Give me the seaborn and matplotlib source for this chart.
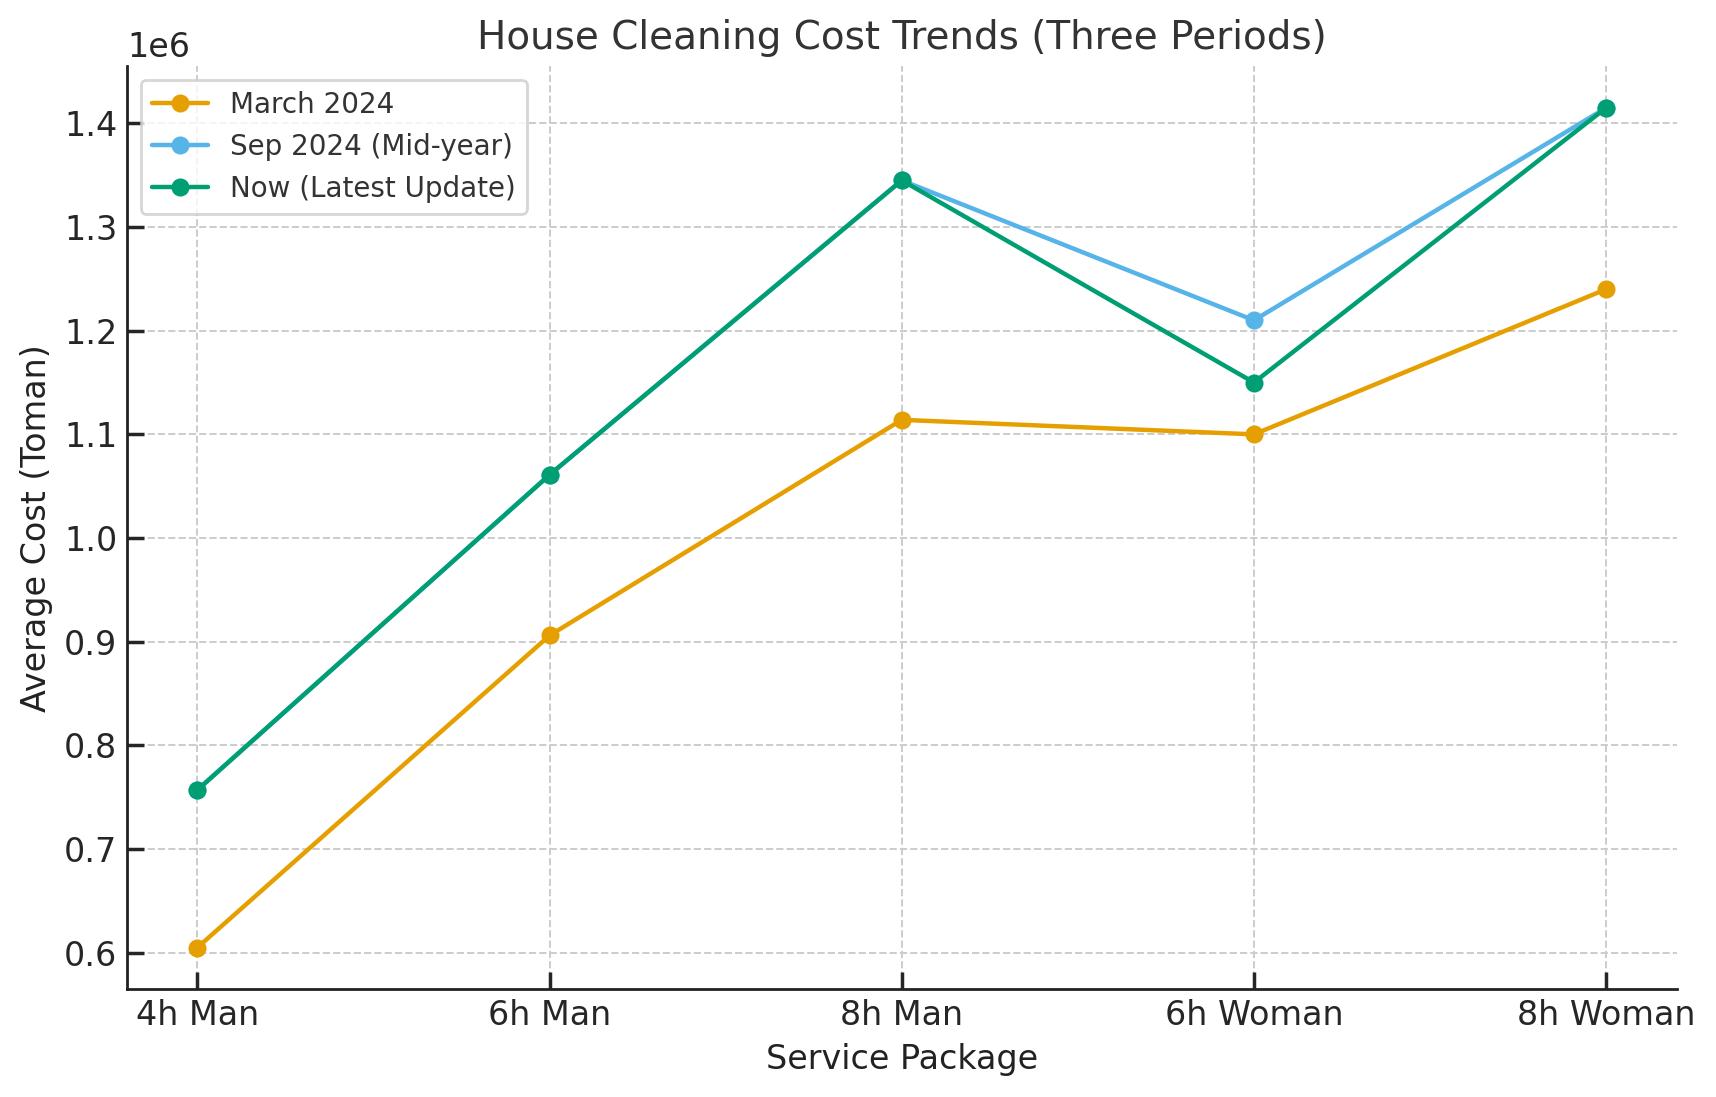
import pandas as pd
import matplotlib.pyplot as plt
import seaborn as sns

packages = ["4h Man", "6h Man", "8h Man", "6h Woman", "8h Woman"]
march_2024 = [605000, 906000, 1114000, 1100000, 1240000]
sep_2024 = [757000, 1061000, 1345000, 1210000, 1415000]
now_latest = [757000, 1061000, 1345000, 1150000, 1415000]
periods = ["March 2024", "Sep 2024 (Mid-year)", "Now (Latest Update)"]
colors = ["#E69F00", "#56B4E9", "#009E73"]

rows = []
for period, vals in zip(periods, [march_2024, sep_2024, now_latest]):
    for pkg, v in zip(packages, vals):
        rows.append({"Service Package": pkg, "Cost": v, "Period": period})
df = pd.DataFrame(rows)

sns.set_theme(style="ticks")
plt.rcParams['font.family'] = ['DejaVu Sans']

fig, ax = plt.subplots(figsize=(8.58, 5.485), dpi=200)
sns.lineplot(data=df, x="Service Package", y="Cost", hue="Period",
             palette=colors, marker="o", markersize=6.5, linewidth=1.6,
             markeredgewidth=0, sort=False, ax=ax)

ax.grid(True, linestyle="--", color="#cccccc", linewidth=0.7)
sns.despine(ax=ax)
ax.spines['left'].set_linewidth(1.0)
ax.spines['bottom'].set_linewidth(1.0)
ax.spines['left'].set_color("#222222")
ax.spines['bottom'].set_color("#222222")

ax.set_title("House Cleaning Cost Trends (Three Periods)", fontsize=14, color="#333333")
ax.set_xlabel("Service Package", fontsize=12, color="#222222")
ax.set_ylabel("Average Cost (Toman)", fontsize=12, color="#222222")
ax.tick_params(labelsize=12, direction="in")
ax.yaxis.get_offset_text().set_fontsize(12)

leg = ax.legend(loc="upper left", fontsize=10, frameon=True)
leg.get_frame().set_edgecolor("#cccccc")
for t in leg.get_texts():
    t.set_color("#333333")

fig.subplots_adjust(left=0.074, right=0.977, top=0.94, bottom=0.098)
fig.savefig("out.png", dpi=200)
